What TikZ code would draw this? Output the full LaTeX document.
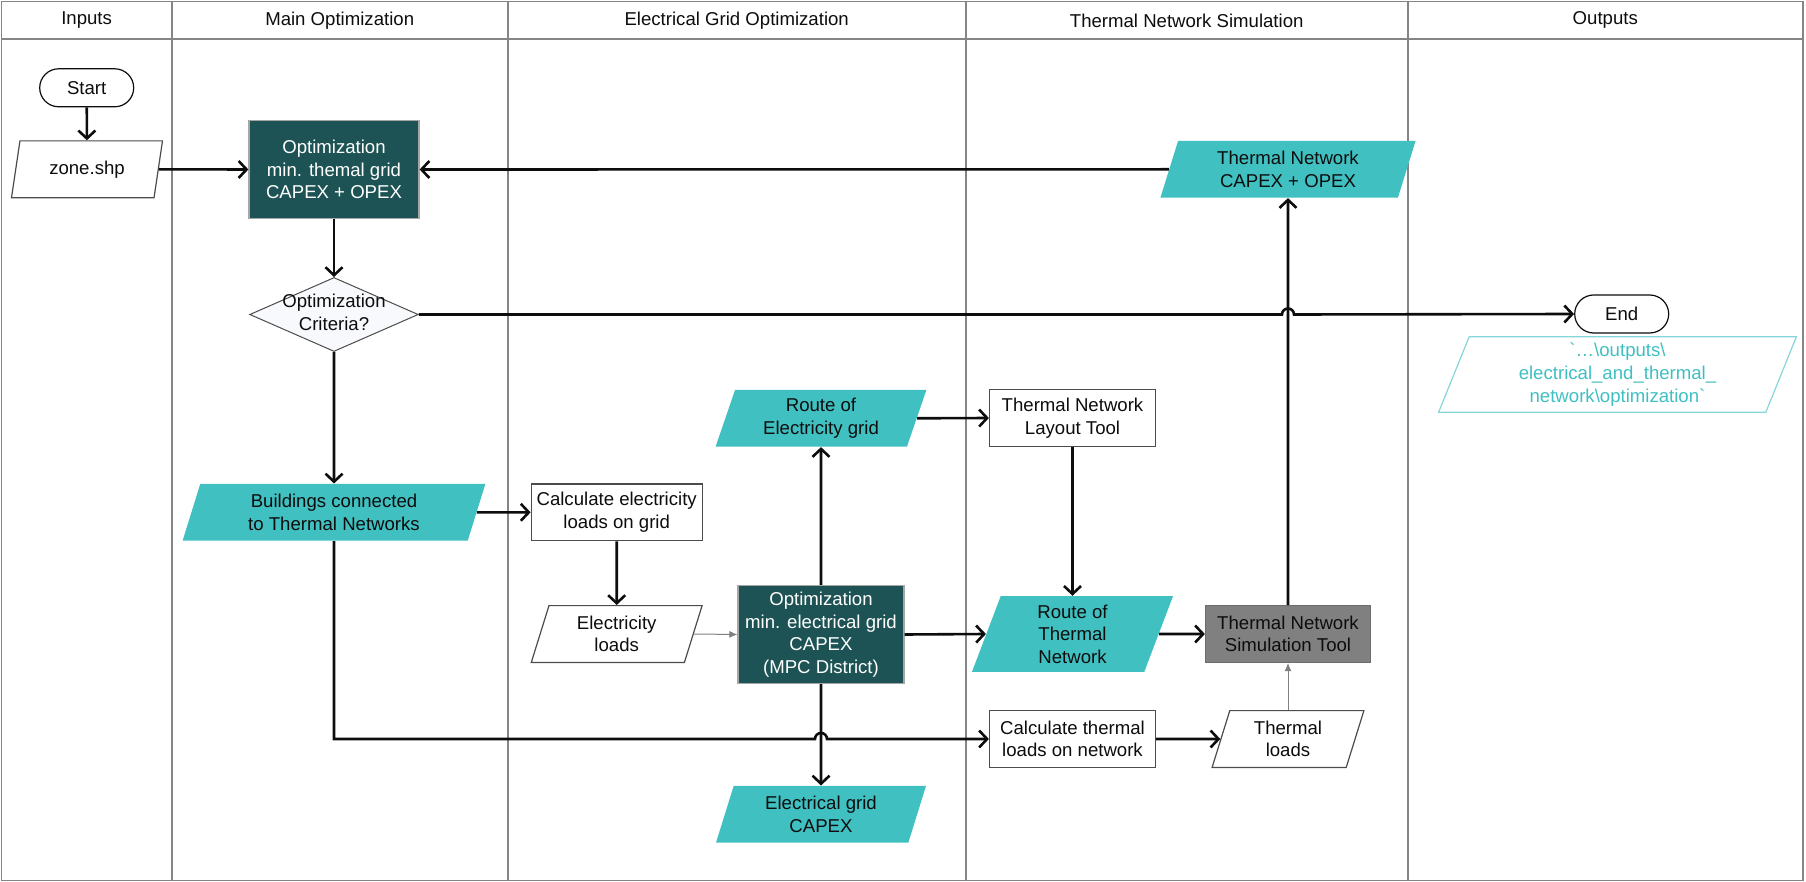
\documentclass[tikz,border=0pt]{standalone}
\usepackage{fontspec}
\setmainfont{Liberation Sans}
\usetikzlibrary{arrows.meta, calc, positioning, shapes.geometric}
\definecolor{mainBlack}{gray}{0.05}
\definecolor{laneGray}{gray}{0.52}
\definecolor{boxGray}{gray}{0.3}
\definecolor{darkTeal}{HTML}{1D5354}
\definecolor{mainTeal}{HTML}{40C0C1}
\definecolor{toolGray}{gray}{0.5}
\definecolor{paleFill}{HTML}{F8F9FC}
\definecolor{pathTeal}{HTML}{3FBFC2}
\definecolor{pathEdge}{HTML}{86D6D9}

\begin{document}
\begin{tikzpicture}[x=0.5pt, y=-0.5pt,
    font=\fontsize{9.3pt}{11.3pt}\selectfont,
    every node/.style={inner sep=0pt, align=center, text=mainBlack},
    lane/.style={laneGray, line width=0.8pt},
    procbox/.style={rectangle, draw=boxGray, line width=0.6pt, fill=white, minimum width=83pt, minimum height=28.4pt},
    optbox/.style={rectangle, draw=boxGray!50, line width=0.6pt, fill=darkTeal, text=white, minimum width=83pt, minimum height=49pt},
    toolbox/.style={procbox, fill=toolGray, draw=toolGray!85!black},
    databox/.style={trapezium, trapezium left angle=64, trapezium right angle=116, trapezium stretches body, minimum height=28.4pt},
    tealdata/.style={databox, fill=mainTeal},
    whitedata/.style={databox, draw=boxGray, line width=0.6pt, fill=white},
    termbox/.style={rectangle, rounded corners=9.5pt, draw=mainBlack, line width=0.6pt, fill=white, minimum width=47pt, minimum height=19pt},
    decision/.style={diamond, draw=boxGray, line width=0.5pt, fill=paleFill, minimum width=84.3pt, minimum height=37pt},
    flow/.style={-{Straight Barb[length=4pt, width=8.5pt]}, line width=1.3pt, mainBlack},
    thinflow/.style={-{Latex[length=4pt, width=3.5pt]}, line width=0.5pt, toolGray}
  ]
  \useasboundingbox (0,0) rectangle (1806,882);

  % レーンと見出し
  \draw[lane] (1.5,1.5) rectangle (1803,880.5);
  \draw[lane] (1.5,39.3) -- (1803,39.3);
  \foreach \xpos in {171.7, 507.7, 965.8, 1407.7}
    \draw[lane] (\xpos,1.5) -- (\xpos,880.5);
  \foreach \xpos/\title [count=\i] in {86.6/Inputs, 339.7/Main Optimization, 736.7/Electrical Grid Optimization, 1186.7/Thermal Network Simulation, 1605.3/Outputs}
    \node (head\i) at (\xpos,20.4) {\title};

  % 入力とメイン最適化
  \node[termbox] (start) at (86.7,87.8) {Start};
  \node[whitedata, minimum width=75.5pt] (zone) at (87,169.3) {zone.shp};
  \node[optbox, minimum width=85pt] (optMain) at (334,169.5) {Optimization\\min. themal grid\\CAPEX + OPEX};
  \node[decision] (criteria) at (334,314.5) {\makebox[0pt]{\begin{tabular}{@{}c@{}}Optimization\\Criteria?\end{tabular}}};
  \node[tealdata, minimum width=151.4pt] (buildings) at (334,512.3) {Buildings connected\\to Thermal Networks};

  % 電力網の最適化
  \node[procbox, minimum width=85.5pt] (calcElec) at (616.7,512.3) {Calculate electricity\\loads on grid};
  \node[whitedata, minimum width=85.4pt] (elecLoads) at (616.7,634) {Electricity\\loads};
  \node[optbox] (optElec) at (821,634.5) {Optimization\\min. electrical grid\\CAPEX\\(MPC District)};
  \node[tealdata, minimum width=105.4pt] (routeElec) at (821,418.3) {Route of\\Electricity grid};
  \node[tealdata, minimum width=105pt] (capexElec) at (821,814.3) {Electrical grid\\CAPEX};

  % 熱ネットワークのシミュレーション
  \node[procbox] (layoutTool) at (1072.5,418) {Thermal Network\\Layout Tool};
  \node[tealdata, minimum width=100.5pt, minimum height=37.8pt] (routeThermal) at (1072.5,634) {Route of\\Thermal\\Network};
  \node[procbox] (calcThermal) at (1072.5,739) {Calculate thermal\\loads on network};
  \node[toolbox, minimum width=82.5pt] (simTool) at (1288,634) {Thermal Network\\Simulation Tool};
  \node[whitedata, minimum width=75.9pt] (thermalLoads) at (1288,739) {Thermal\\loads};
  \node[tealdata, minimum width=127.6pt] (capexThermal) at (1288,169.3) {Thermal Network\\CAPEX + OPEX};

  % 出力
  \node[termbox] (endNode) at (1621.7,314) {End};
  \node[databox, draw=pathEdge, line width=0.6pt, text=pathTeal, minimum width=178.9pt, minimum height=37.8pt] (outPath) at (1617.5,374.5)
    {\textasciigrave\ldots\textbackslash outputs\textbackslash\\electrical\_and\_thermal\_\\network\textbackslash optimization\textasciigrave};

  % 接続
  \draw[flow] (start) -- (zone);
  \draw[flow] (zone.east) -- (optMain.west);
  \draw[flow] (capexThermal.west) -- (optMain.east);
  \draw[flow] (optMain) -- (criteria);
  \draw[flow] (criteria.east) -- ($(criteria.east -| simTool.north)+(-3pt,0)$)
    arc[start angle=180, end angle=0, radius=3pt] -- (endNode.west);
  \draw[flow] (criteria) -- (buildings);
  \draw[flow] (buildings.east) -- (calcElec.west);
  \draw[flow] (buildings.south) -- (buildings.south |- calcThermal.west)
    -- ($(optElec.south |- calcThermal.west)+(-3pt,0)$)
    arc[start angle=180, end angle=0, radius=3pt] -- (calcThermal.west);
  \draw[flow] (calcElec) -- (elecLoads);
  \draw[thinflow] (elecLoads.east) -- (optElec.west);
  \draw[flow] (optElec) -- (routeElec);
  \draw[flow] (optElec) -- (capexElec);
  \draw[flow] (routeElec.east) -- (layoutTool.west);
  \draw[flow] (layoutTool) -- (routeThermal);
  \draw[flow] (optElec.east) -- (routeThermal.west);
  \draw[flow] (routeThermal.east) -- (simTool.west);
  \draw[flow] (calcThermal.east) -- (thermalLoads.west);
  \draw[thinflow] (thermalLoads) -- (simTool);
  \draw[flow] (simTool) -- (capexThermal);
\end{tikzpicture}
\end{document}
